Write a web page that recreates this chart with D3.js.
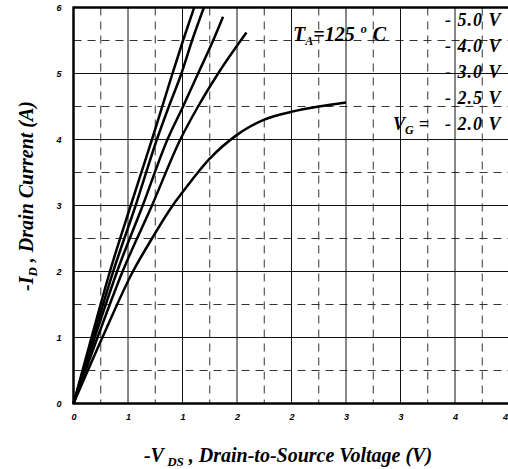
<!DOCTYPE html>
<html lang="en">
  <head>
    <meta charset="UTF-8" />
    <title>-ID vs -VDS, TA = 125 C</title>
    <script src="https://d3js.org/d3.v7.min.js"></script>
    <style>
      html, body { margin: 0; padding: 0; background: #fff; }
      svg { display: block; font-family: "Liberation Serif", "DejaVu Serif", serif; }
      .tick text { font-weight: bold; font-style: italic; font-size: 9px; }
      .lbl { font-weight: bold; font-style: italic; fill: #000; }
    </style>
  </head>
  <body>
    <div id="chart"></div>
    <script>
      // data (V_DS in volts, I_D in amps)
      const gateLabels = ["- 5.0 V", "- 4.0 V", "- 3.0 V", "- 2.5 V", "- 2.0 V"];
      const vg50 = [[0, 0], [0.165, 1], [0.334, 2], [0.525, 3], [0.72, 4], [0.908, 5], [1.005, 5.5], [1.107, 6.0]];
      const vg40 = [[0, 0], [0.18, 1], [0.364, 2], [0.57, 3], [0.765, 4], [0.875, 4.5], [0.99, 5], [1.088, 5.5], [1.196, 6.0]];
      const vg30 = [[0, 0], [0.195, 1], [0.40, 2], [0.635, 3], [0.862, 4], [1.005, 4.5], [1.143, 5], [1.281, 5.5], [1.372, 5.86]];
      const vg25 = [[0, 0], [0.22, 1], [0.45, 2], [0.72, 3], [0.98, 4], [1.143, 4.5], [1.327, 5], [1.587, 5.62]];
      const vg20 = [[0, 0], [0.265, 1.0], [0.545, 2.0], [0.72, 2.5], [0.91, 3.0], [1.0, 3.2], [1.25, 3.71],
                    [1.5, 4.07], [1.75, 4.3], [2.0, 4.42], [2.25, 4.5], [2.5, 4.56]];
      const curves = [vg50, vg40, vg30, vg25, vg20];

      const xTicks = [0, 0.5, 1, 1.5, 2, 2.5, 3, 3.5, 4];
      const xTickLabels = ["0", "1", "1", "2", "2", "3", "3", "4", "4"];
      const xMinor = [0.25, 0.75, 1.25, 1.75, 2.25, 2.75, 3.25, 3.75];
      const yTicks = [0, 1, 2, 3, 4, 5, 6];
      const yMinor = [0.5, 1.5, 2.5, 3.5, 4.5, 5.5];

      const W = 508, H = 469;
      const x = d3.scaleLinear().domain([0, 4]).range([73.5, 509.5]);
      const y = d3.scaleLinear().domain([0, 6]).range([403.5, 7.5]);
      const yTop = y(6), yBot = y(0), xLeft = x(0), xRight = x(4);

      const svg = d3.select("#chart").append("svg").attr("width", W).attr("height", H);

      // grille : tirets
      svg.append("g").selectAll("line").data(xMinor).join("line")
        .attr("x1", d => x(d)).attr("x2", d => x(d)).attr("y1", yTop).attr("y2", yBot)
        .attr("stroke", "#333").attr("stroke-width", 1).attr("stroke-dasharray", "8,6");
      svg.append("g").selectAll("line").data(yMinor).join("line")
        .attr("x1", xLeft).attr("x2", xRight).attr("y1", d => y(d)).attr("y2", d => y(d))
        .attr("stroke", "#333").attr("stroke-width", 1).attr("stroke-dasharray", "8,6");

      // grille : traits pleins
      svg.append("g").selectAll("line").data(xTicks).join("line")
        .attr("x1", d => x(d)).attr("x2", d => x(d)).attr("y1", yTop).attr("y2", yBot)
        .attr("stroke", "#111").attr("stroke-width", 1);
      svg.append("g").selectAll("line").data(yTicks).join("line")
        .attr("x1", xLeft).attr("x2", xRight).attr("y1", d => y(d)).attr("y2", d => y(d))
        .attr("stroke", "#111").attr("stroke-width", 1);

      // axes
      const xAxis = svg.append("g").attr("transform", `translate(0,${yBot})`)
        .call(d3.axisBottom(x).tickValues(xTicks).tickFormat((d, i) => xTickLabels[i]).tickSize(0).tickPadding(10));
      xAxis.select(".domain").remove();
      // le dernier label touche le bord droit
      xAxis.selectAll(".tick text").filter((d, i) => i === xTicks.length - 1)
        .attr("text-anchor", "end").attr("x", -2);
      const yAxis = svg.append("g").attr("transform", `translate(${xLeft},0)`)
        .call(d3.axisLeft(y).tickValues(yTicks).tickFormat(d3.format("d")).tickSize(0).tickPadding(12));
      yAxis.select(".domain").remove();

      // cadre épais
      svg.append("line").attr("x1", xLeft).attr("x2", xLeft).attr("y1", yTop - 1).attr("y2", yBot + 1)
        .attr("stroke", "#000").attr("stroke-width", 2.5);
      svg.append("line").attr("x1", xLeft).attr("x2", xRight).attr("y1", yBot).attr("y2", yBot)
        .attr("stroke", "#000").attr("stroke-width", 2.5);
      svg.append("line").attr("x1", xLeft).attr("x2", xRight).attr("y1", yTop).attr("y2", yTop)
        .attr("stroke", "#000").attr("stroke-width", 2.5);

      // courbes
      const line = d3.line().x(d => x(d[0])).y(d => y(d[1])).curve(d3.curveMonotoneX);
      svg.append("g").selectAll("path").data(curves).join("path")
        .attr("d", line).attr("fill", "none").attr("stroke", "#000").attr("stroke-width", 2.5);

      // annotations
      const ta = svg.append("text").attr("class", "lbl").attr("x", 293).attr("y", 41).style("font-size", "20px");
      ta.append("tspan").text("T");
      ta.append("tspan").attr("dy", 4).style("font-size", "12px").text("A");
      ta.append("tspan").attr("dy", -4).text("=125");
      ta.append("tspan").attr("dy", -8).attr("dx", 6).style("font-size", "12px").text("o");
      ta.append("tspan").attr("dy", 8).attr("dx", 6).text("C");

      svg.append("g").selectAll("text").data(gateLabels).join("text")
        .attr("class", "lbl").attr("x", 445).attr("y", (d, i) => 26 + i * 26)
        .style("font-size", "18px").style("letter-spacing", "1px").text(d => d);

      const vgl = svg.append("text").attr("class", "lbl").attr("x", 393).attr("y", 130).style("font-size", "18px");
      vgl.append("tspan").text("V");
      vgl.append("tspan").attr("dy", 4).style("font-size", "12px").text("G");
      vgl.append("tspan").attr("dy", -4).attr("dx", 5).text("=");

      // titres des axes
      const xl = svg.append("text").attr("class", "lbl").attr("x", 288).attr("y", 462)
        .attr("text-anchor", "middle").style("font-size", "20px");
      xl.append("tspan").text("-V");
      xl.append("tspan").attr("dy", 4).style("font-size", "13px").text(" DS");
      xl.append("tspan").attr("dy", -4).text(" , Drain-to-Source Voltage (V)");

      const yl = svg.append("text").attr("class", "lbl")
        .attr("transform", "translate(33,196) rotate(-90)")
        .attr("text-anchor", "middle").style("font-size", "20px");
      yl.append("tspan").text("-I");
      yl.append("tspan").attr("dy", 4).style("font-size", "13px").text("D");
      yl.append("tspan").attr("dy", -4).text(" , Drain Current (A)");
    </script>
  </body>
</html>
